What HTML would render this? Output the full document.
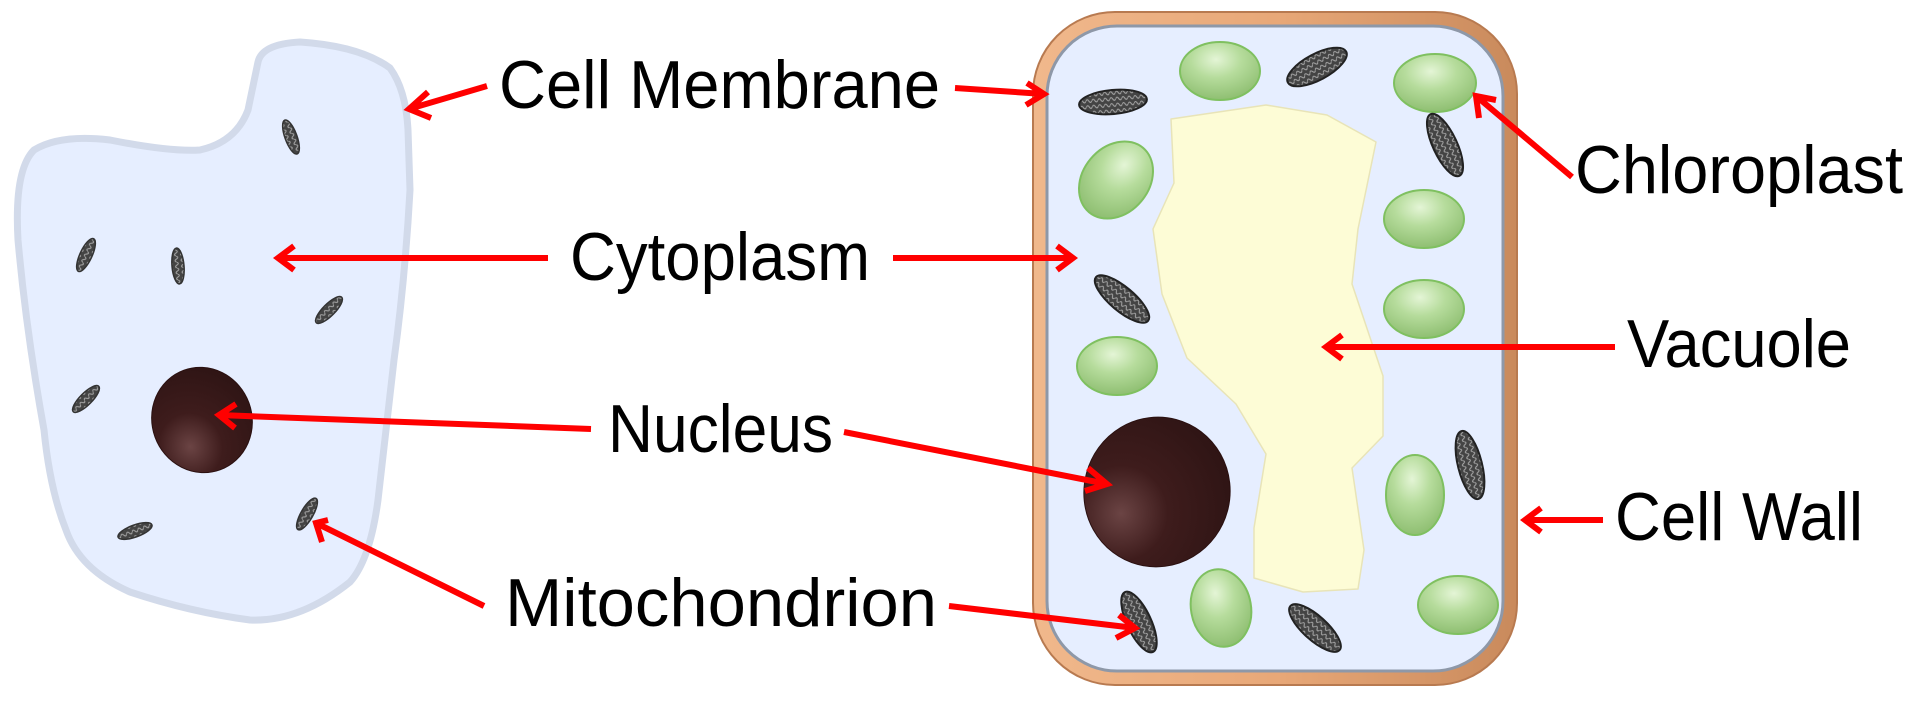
<!DOCTYPE html>
<html><head><meta charset="utf-8"><style>html,body{margin:0;padding:0;background:#fff}svg{display:block}</style></head>
<body>
<svg width="1920" height="718" viewBox="0 0 1920 718" xmlns="http://www.w3.org/2000/svg">
<defs>
<radialGradient id="nuc" cx="30%" cy="70%" r="80%"><stop offset="0" stop-color="#6b4444"/><stop offset="0.4" stop-color="#3e1c1c"/><stop offset="1" stop-color="#2e1414"/></radialGradient>
<radialGradient id="chl" cx="45%" cy="30%" r="70%"><stop offset="0" stop-color="#e4f5d6"/><stop offset="0.45" stop-color="#b6dc9c"/><stop offset="1" stop-color="#8fbf72"/></radialGradient>
<linearGradient id="wall" x1="0" x2="1"><stop offset="0" stop-color="#f0b88c"/><stop offset="0.5" stop-color="#e8a878"/><stop offset="1" stop-color="#c98a5c"/></linearGradient>
<pattern id="mito" width="6" height="6" patternUnits="userSpaceOnUse"><rect width="6" height="6" fill="#444"/><path d="M0 3 Q1.5 0 3 3 T6 3" stroke="#aaa" stroke-width="1" fill="none"/></pattern>
</defs>

<!-- animal cell -->
<path d="M258 62 Q262 44 300 42 Q360 46 390 68 Q406 90 408 130 L410 190 Q405 280 394 360 L378 500 Q370 560 350 582 Q300 622 250 620 Q190 612 130 592 Q80 570 66 530 Q50 490 44 430 Q26 330 18 240 Q14 170 34 150 Q60 134 110 140 Q170 152 200 150 Q236 142 248 110 Z" fill="#e6eeff" stroke="#d2daea" stroke-width="7" stroke-linejoin="round"/>
<g fill="url(#mito)" stroke="#333" stroke-width="1.5">
<ellipse cx="291" cy="137" rx="18" ry="6" transform="rotate(70 291 137)"/>
<ellipse cx="86" cy="255" rx="18" ry="6" transform="rotate(-65 86 255)"/>
<ellipse cx="178" cy="266" rx="18" ry="6" transform="rotate(85 178 266)"/>
<ellipse cx="329" cy="310" rx="18" ry="6" transform="rotate(-45 329 310)"/>
<ellipse cx="86" cy="399" rx="18" ry="6" transform="rotate(-45 86 399)"/>
<ellipse cx="307" cy="514" rx="18" ry="6" transform="rotate(-60 307 514)"/>
<ellipse cx="135" cy="531" rx="18" ry="6" transform="rotate(-20 135 531)"/>
</g>
<ellipse cx="202" cy="420" rx="50" ry="53" transform="rotate(-20 202 420)" fill="url(#nuc)" stroke="#2a1010" stroke-width="1"/>

<!-- plant cell -->
<rect x="1033" y="12" width="484" height="673" rx="82" fill="url(#wall)" stroke="#b87a50" stroke-width="2"/>
<rect x="1047" y="26" width="456" height="645" rx="70" fill="#e6eeff" stroke="#8e98a8" stroke-width="3"/>
<path d="M1171 119 L1266 105 L1327 115 L1376 142 L1358 229 L1352 284 L1383 376 L1383 436 L1352 468 L1364 550 L1358 589 L1303 592 L1254 578 L1254 528 L1266 454 L1236 404 L1187 358 L1162 294 L1153 229 L1174 183 Z" fill="#fdfcd6" stroke="#e8e4b8" stroke-width="1.5" stroke-linejoin="round"/>
<g fill="url(#chl)" stroke="#7fc060" stroke-width="2">
<ellipse cx="1220" cy="71" rx="40" ry="29"/>
<ellipse cx="1435" cy="83" rx="41" ry="29"/>
<ellipse cx="1116" cy="180" rx="33" ry="42" transform="rotate(40 1116 180)"/>
<ellipse cx="1424" cy="219" rx="40" ry="29"/>
<ellipse cx="1424" cy="309" rx="40" ry="29"/>
<ellipse cx="1117" cy="366" rx="40" ry="29"/>
<ellipse cx="1415" cy="495" rx="29" ry="40"/>
<ellipse cx="1221" cy="608" rx="30" ry="39" transform="rotate(-10 1221 608)"/>
<ellipse cx="1458" cy="605" rx="40" ry="29"/>
</g>
<g fill="url(#mito)" stroke="#222" stroke-width="2">
<ellipse cx="1317" cy="67" rx="33" ry="13" transform="rotate(-28 1317 67)"/>
<ellipse cx="1113" cy="102" rx="34" ry="12" transform="rotate(-5 1113 102)"/>
<ellipse cx="1445" cy="145" rx="34" ry="12" transform="rotate(65 1445 145)"/>
<ellipse cx="1122" cy="299" rx="34" ry="12" transform="rotate(40 1122 299)"/>
<ellipse cx="1470" cy="465" rx="35" ry="12" transform="rotate(76 1470 465)"/>
<ellipse cx="1139" cy="622" rx="33" ry="12" transform="rotate(65 1139 622)"/>
<ellipse cx="1315" cy="628" rx="33" ry="12" transform="rotate(42 1315 628)"/>
</g>
<ellipse cx="1157" cy="492" rx="73" ry="75" transform="rotate(15 1157 492)" fill="url(#nuc)" stroke="#2a1010" stroke-width="1"/>

<!-- arrows -->
<g stroke="#ff0000" stroke-width="6" fill="none" stroke-linecap="butt">
<path d="M487 86 L409 109 M428 92 L409 109 L431 118"/>
<path d="M955 88 L1044 94 M1027 83 L1044 94 L1026 105"/>
<path d="M548 258 L278 258 M294 246 L278 258 L294 270"/>
<path d="M893 258 L1073 258 M1057 246 L1073 258 L1057 270"/>
<path d="M591 429 L219 415 M236 404 L219 415 L235 428"/>
<path d="M844 432 L1107 484 M1088 468 L1107 484 L1085 491"/>
<path d="M484 606 L316 523 M328 520 L316 523 L322 542"/>
<path d="M949 606 L1135 628 M1119 615 L1135 628 L1116 638"/>
<path d="M1572 177 L1476 96 M1479 118 L1476 96 L1496 100"/>
<path d="M1615 347 L1326 347 M1342 335 L1326 347 L1342 359"/>
<path d="M1603 520 L1525 520 M1541 508 L1525 520 L1541 532"/>
</g>

<g font-family="'Liberation Sans Narrow','Liberation Sans',sans-serif" font-size="68" fill="#000">
<text x="499" y="108" textLength="441" lengthAdjust="spacingAndGlyphs">Cell Membrane</text>
<text x="570" y="280" textLength="300" lengthAdjust="spacingAndGlyphs">Cytoplasm</text>
<text x="608" y="452" textLength="225" lengthAdjust="spacingAndGlyphs">Nucleus</text>
<text x="505" y="626" textLength="432" lengthAdjust="spacingAndGlyphs">Mitochondrion</text>
<text x="1575" y="193" textLength="328" lengthAdjust="spacingAndGlyphs">Chloroplast</text>
<text x="1627" y="367" textLength="224" lengthAdjust="spacingAndGlyphs">Vacuole</text>
<text x="1615" y="540" textLength="248" lengthAdjust="spacingAndGlyphs">Cell Wall</text>
</g>
</svg>
</body></html>
